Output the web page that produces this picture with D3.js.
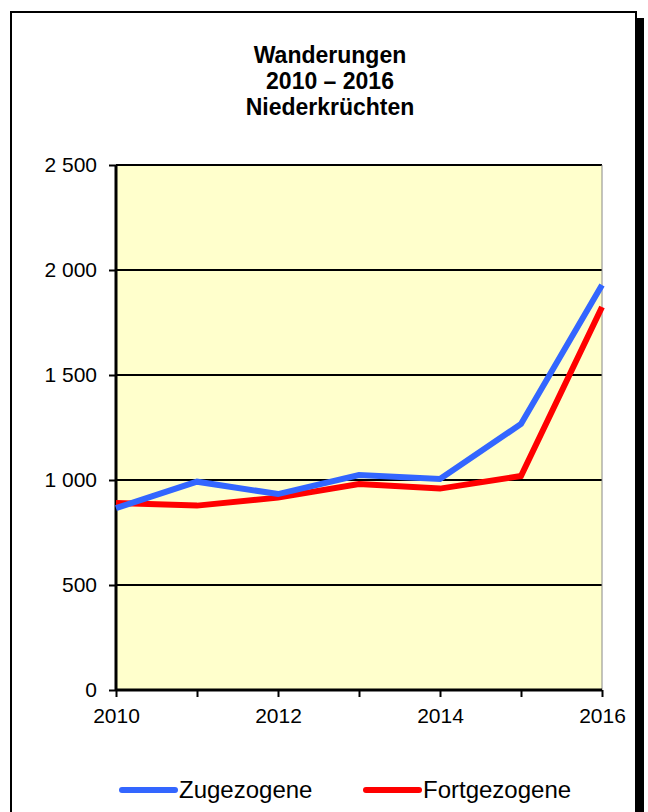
<!DOCTYPE html>
<html>
<head>
<meta http-equiv="Content-type" content="text/html; charset=utf-8">
<title>Wanderungen</title>
<script src="https://cdn.jsdelivr.net/npm/d3@7"></script>
<style>
  body { margin:0; background:#fff; }
  svg text { font-family: "Liberation Sans", Arial, sans-serif; fill:#000; }
</style>
</head>
<body>
<script type="text/javascript">

  // data
  var years = [2010, 2011, 2012, 2013, 2014, 2015, 2016];
  var zugezogene = [866, 992, 933, 1024, 1005, 1267, 1929];
  var fortgezogene = [890, 878, 916, 981, 959, 1019, 1824];
  var yTicks = [0, 500, 1000, 1500, 2000, 2500];
  var xTickLabels = [2010, 2012, 2014, 2016];
  var titleLines = ["Wanderungen", "2010 \u2013 2016", "Niederkrüchten"];

  var W = 648, H = 812;
  var plotL = 116, plotR = 602, plotT = 165, plotB = 690;

  var svg = d3.select("body").append("svg").attr("width", W).attr("height", H);

  // frame + shadow
  svg.append("rect").attr("x", 637).attr("y", 18).attr("width", 7).attr("height", H).attr("fill", "#000");
  svg.append("rect").attr("x", 11).attr("y", 12).attr("width", 625).attr("height", H + 10)
     .attr("fill", "#fff").attr("stroke", "#000").attr("stroke-width", 2);

  // title
  svg.append("g").selectAll("text").data(titleLines).enter().append("text")
     .attr("x", 330).attr("y", function(d, i) { return 63 + i * 26; })
     .attr("text-anchor", "middle").attr("font-size", 23).attr("font-weight", "bold")
     .text(function(d) { return d; });

  var x = d3.scaleLinear().domain([2010, 2016]).range([plotL, plotR]);
  var y = d3.scaleLinear().domain([0, 2500]).range([plotB, plotT]);

  // plot background
  svg.append("rect").attr("x", plotL).attr("y", plotT).attr("width", plotR - plotL).attr("height", plotB - plotT)
     .attr("fill", "#FFFFCC");

  // grid
  svg.append("g").selectAll("line").data(yTicks.filter(function(d) { return d > 0; })).enter().append("line")
     .attr("x1", plotL).attr("x2", plotR).attr("y1", function(d) { return y(d); }).attr("y2", function(d) { return y(d); })
     .attr("stroke", "#000").attr("stroke-width", 2);

  // right edge of plot
  svg.append("line").attr("x1", plotR).attr("x2", plotR).attr("y1", plotT).attr("y2", plotB)
     .attr("stroke", "#888").attr("stroke-width", 1);

  // axes
  var yAxis = d3.axisLeft(y).tickValues(yTicks).tickSize(7).tickPadding(12)
     .tickFormat(function(d) { return d >= 1000 ? Math.floor(d / 1000) + " " + d3.format("03")(d % 1000) : d; });
  var gy = svg.append("g").attr("transform", "translate(" + plotL + ",0)").call(yAxis);
  gy.select(".domain").attr("stroke-width", 3).attr("d", "M0," + plotT + "V" + plotB);
  gy.selectAll(".tick line").attr("stroke-width", 2);
  gy.selectAll("text").attr("font-size", 21).attr("font-family", "Liberation Sans, Arial, sans-serif");

  var xAxis = d3.axisBottom(x).tickValues(years).tickSize(7).tickPadding(11)
     .tickFormat(function(d) { return xTickLabels.indexOf(d) >= 0 ? d : ""; });
  var gx = svg.append("g").attr("transform", "translate(0," + plotB + ")").call(xAxis);
  gx.select(".domain").attr("stroke-width", 3).attr("d", "M" + plotL + ",0H" + plotR);
  gx.selectAll(".tick line").attr("stroke-width", 2);
  gx.selectAll("text").attr("font-size", 21).attr("font-family", "Liberation Sans, Arial, sans-serif");

  // lines
  var line = d3.line().x(function(d, i) { return x(years[i]); }).y(function(d) { return y(d); });
  var series = [
    { name: "Zugezogene", values: zugezogene, color: "#3366FF" },
    { name: "Fortgezogene", values: fortgezogene, color: "#FF0000" }
  ];
  svg.append("g").selectAll("path").data(series.slice().reverse()).enter().append("path")
     .attr("d", function(d) { return line(d.values); })
     .attr("fill", "none").attr("stroke", function(d) { return d.color; })
     .attr("stroke-width", 6).attr("stroke-linejoin", "miter");

  // legend
  var legX = [122, 366];
  var leg = svg.append("g").selectAll("g").data(series).enter().append("g")
     .attr("transform", function(d, i) { return "translate(" + legX[i] + ",790)"; });
  leg.append("line").attr("x1", 0).attr("x2", 53).attr("stroke", function(d) { return d.color; })
     .attr("stroke-width", 6).attr("stroke-linecap", "round");
  leg.append("text").attr("x", 57).attr("y", 8).attr("font-size", 24).text(function(d) { return d.name; });

</script>
</body>
</html>
